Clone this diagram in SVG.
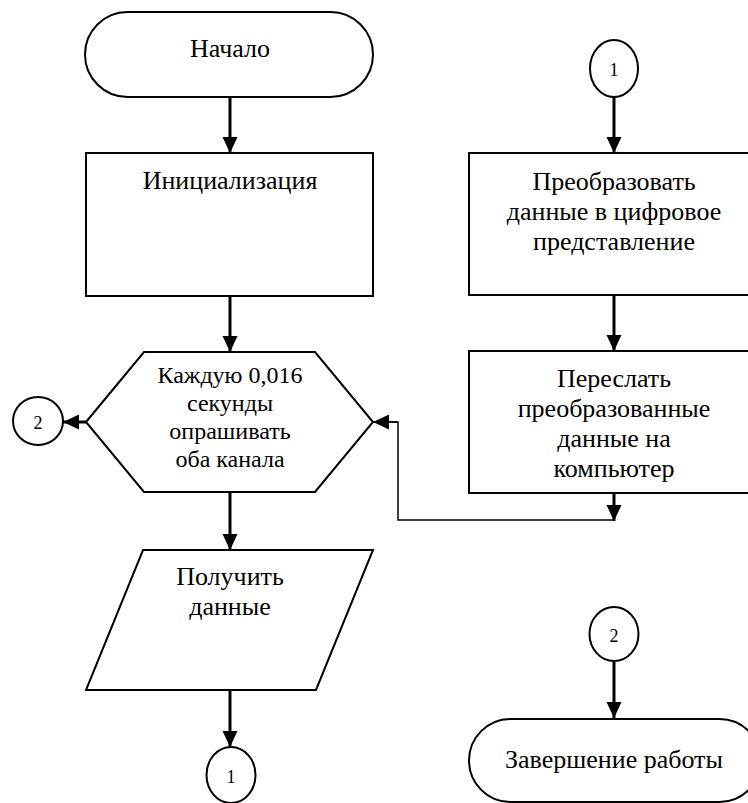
<svg xmlns="http://www.w3.org/2000/svg" width="748" height="803" viewBox="0 0 748 803">
<style>
.s{fill:#fff;stroke:#000;stroke-width:2}
.t{font-family:'Liberation Serif','Times New Roman',serif;font-size:26px;text-anchor:middle;fill:#000}
.th{font-family:'Liberation Serif','Times New Roman',serif;font-size:24px;text-anchor:middle;fill:#000}
.n{font-family:'Liberation Serif','Times New Roman',serif;font-size:18px;text-anchor:middle;fill:#000}
.a{fill:none;stroke:#000;stroke-width:3;marker-end:url(#ah)}
.l{fill:none;stroke:#000;stroke-width:1.5}
</style>
<defs>
<marker id="ah" markerUnits="userSpaceOnUse" markerWidth="16" markerHeight="16" refX="16" refY="7.5" orient="auto">
<path d="M0,0 L16,7.5 L0,15 z" fill="#000"/>
</marker>
</defs>
<rect width="748" height="803" fill="#fff"/>
<g id="connectors">
<line class="a" x1="230" y1="97" x2="230" y2="153"/>
<line class="a" x1="230" y1="296" x2="230" y2="352"/>
<line class="a" x1="230" y1="492" x2="230" y2="550"/>
<line class="a" x1="230" y1="690" x2="230" y2="747"/>
<line class="a" x1="86" y1="422" x2="63" y2="422"/>
<line class="a" x1="614" y1="97" x2="614" y2="153"/>
<line class="a" x1="614" y1="295" x2="614" y2="351"/>
<line class="a" x1="614" y1="493" x2="614" y2="521"/>
<polyline class="l" points="614,520 398,520 398,422 388,422"/>
<line class="a" style="stroke-width:1.5" x1="398" y1="422" x2="373" y2="422"/>
<line class="a" x1="614" y1="662" x2="614" y2="718"/>
</g>
<g id="start">
<rect class="s" x="85" y="12" width="288" height="85" rx="42.5" ry="42.5"/>
<text class="t" x="230" y="57">Начало</text>
</g>
<g id="init">
<rect class="s" x="86" y="153" width="287" height="143"/>
<text class="t" x="230" y="189">Инициализация</text>
</g>
<g id="poll">
<polygon class="s" points="86,422 144,352 315,352 373,422 315,492 144,492"/>
<text class="th" x="230" y="383">Каждую 0,016</text>
<text class="th" x="230" y="411">секунды</text>
<text class="th" x="230" y="439">опрашивать</text>
<text class="th" x="230" y="467">оба канала</text>
</g>
<g id="getdata">
<polygon class="s" points="143,550 373,550 316,690 86,690"/>
<text class="t" x="230" y="585">Получить</text>
<text class="t" x="230" y="615">данные</text>
</g>
<g id="conn1-out">
<ellipse class="s" cx="231" cy="775" rx="24.5" ry="28"/>
<text class="n" x="231" y="783">1</text>
</g>
<g id="conn2-out">
<ellipse class="s" cx="38" cy="421" rx="25" ry="24"/>
<text class="n" x="38" y="429">2</text>
</g>
<g id="conn1-in">
<ellipse class="s" cx="614" cy="68.5" rx="24" ry="28.5"/>
<text class="n" x="614" y="76">1</text>
</g>
<g id="convert">
<rect class="s" x="469" y="153" width="292" height="142"/>
<text class="t" x="614" y="190">Преобразовать</text>
<text class="t" x="614" y="220">данные в цифровое</text>
<text class="t" x="614" y="250">представление</text>
</g>
<g id="send">
<rect class="s" x="469" y="351" width="292" height="142"/>
<text class="t" x="614" y="387">Переслать</text>
<text class="t" x="614" y="417">преобразованные</text>
<text class="t" x="614" y="447">данные на</text>
<text class="t" x="614" y="477">компьютер</text>
</g>
<g id="conn2-in">
<ellipse class="s" cx="614" cy="634" rx="24.5" ry="27"/>
<text class="n" x="614" y="642">2</text>
</g>
<g id="end">
<rect class="s" x="469" y="719" width="292" height="83" rx="41.5" ry="41.5"/>
<text class="t" x="614" y="768">Завершение работы</text>
</g>
</svg>
